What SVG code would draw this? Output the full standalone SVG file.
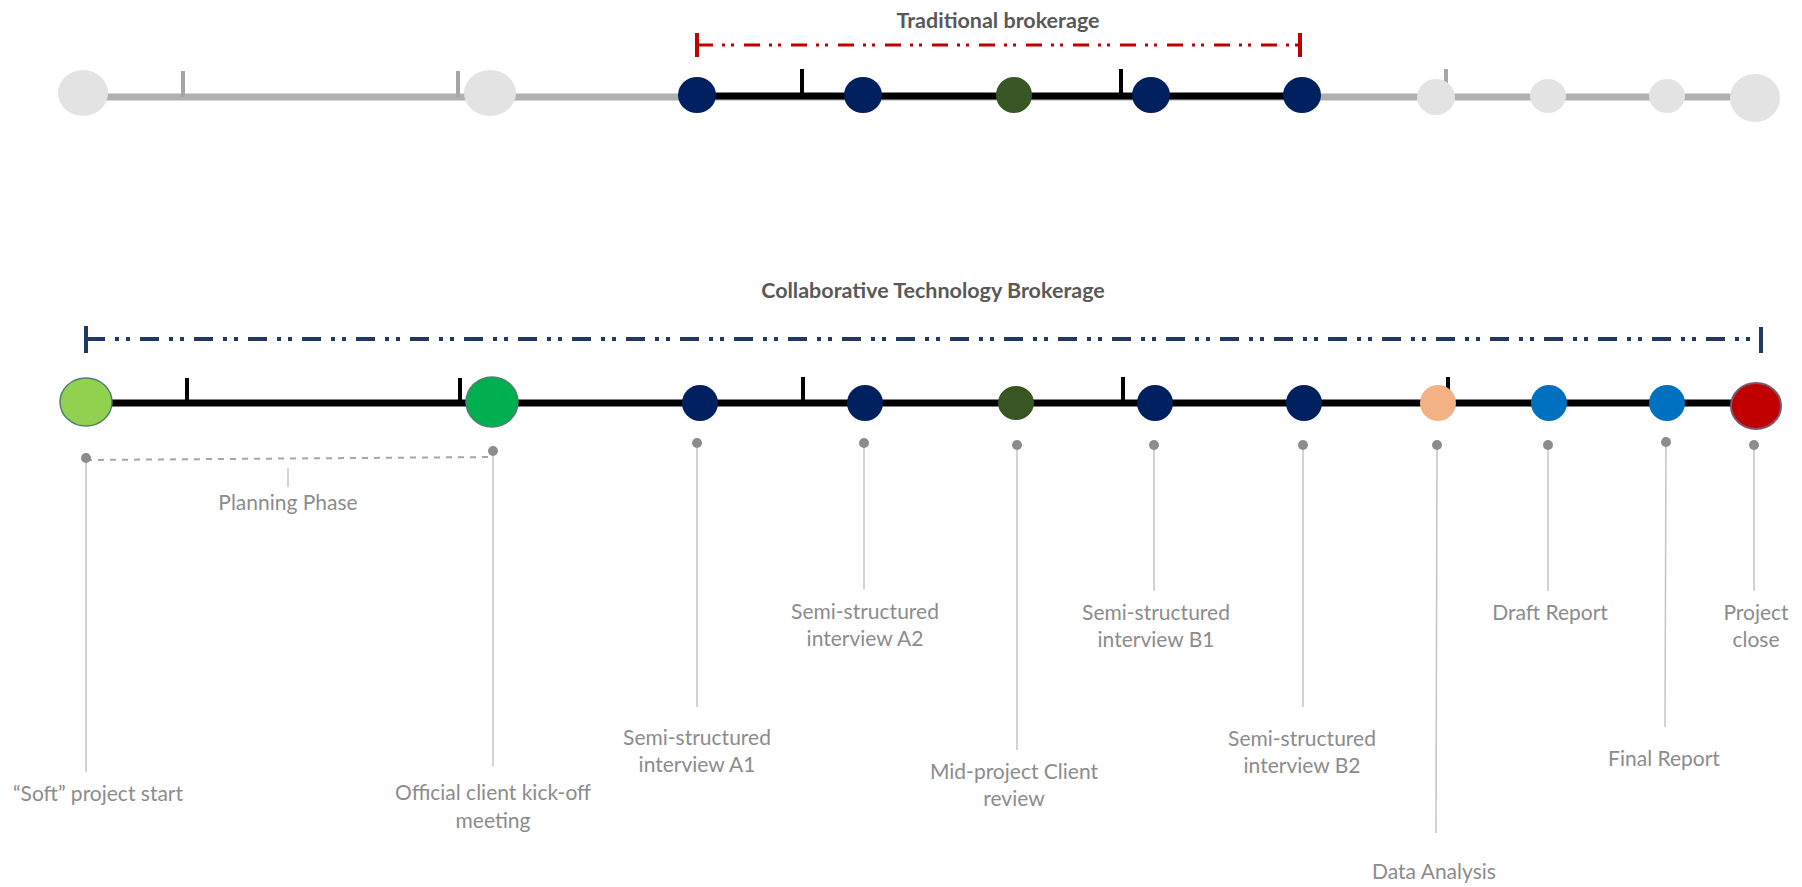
<svg xmlns="http://www.w3.org/2000/svg" width="1802" height="887" viewBox="0 0 1802 887">
  <style>
    .title { font-family: Lato, "Open Sans", sans-serif; font-weight: bold; font-size: 21.5px; fill: #595959; text-anchor: middle; }
    .lbl { font-family: Lato, "Open Sans", sans-serif; font-size: 21px; fill: #8c8c8c; text-anchor: middle; }
    .ghost { fill: #e3e3e3; }
    .gline { stroke: #b0b0b0; stroke-width: 7; fill: none; }
    .gtick { stroke: #a6a6a6; stroke-width: 4; fill: none; }
    .bline { stroke: #000000; stroke-width: 7; fill: none; }
    .btick { stroke: #000000; stroke-width: 4; fill: none; }
    .navy { fill: #002060; }
    .olive { fill: #375623; }
    .leader { stroke: #c4c4c4; stroke-width: 1.5; fill: none; }
    .pin { fill: #8c8c8c; }
    .red-span { stroke: #c00000; stroke-width: 3; fill: none; stroke-dasharray: 16 9 3 6 3 10; }
    .red-cap { stroke: #c00000; stroke-width: 4; }
    .blue-span { stroke: #1f3864; stroke-width: 4; fill: none; stroke-dasharray: 19 10 4 7 4 10; }
    .blue-cap { stroke: #1f3864; stroke-width: 4; }
  </style>

  <!-- Titles -->
  <text class="title" x="998" y="28">Traditional brokerage</text>
  <text class="title" x="933" y="298">Collaborative Technology Brokerage</text>

  <!-- Connectors: spans, timelines, ticks and leader lines -->
  <g id="connectors">
    <!-- traditional span -->
    <line class="red-span" x1="697" y1="45" x2="1300" y2="45"/>
    <line class="red-cap" x1="697" y1="33" x2="697" y2="57"/>
    <line class="red-cap" x1="1300" y1="33" x2="1300" y2="57"/>

    <!-- top timeline -->
    <line class="gline" x1="83" y1="97" x2="1755" y2="97"/>
    <line class="gtick" x1="183" y1="71" x2="183" y2="97"/>
    <line class="gtick" x1="458" y1="71" x2="458" y2="97"/>
    <line class="gtick" x1="1446" y1="69" x2="1446" y2="97"/>
    <line class="bline" x1="697" y1="96" x2="1302" y2="96"/>
    <line class="btick" x1="802" y1="69" x2="802" y2="96"/>
    <line class="btick" x1="1121" y1="69" x2="1121" y2="96"/>

    <!-- collaborative span -->
    <line class="blue-span" x1="86" y1="339" x2="1761" y2="339"/>
    <line class="blue-cap" x1="86" y1="326" x2="86" y2="353"/>
    <line class="blue-cap" x1="1761" y1="327" x2="1761" y2="353"/>

    <!-- bottom timeline -->
    <line class="bline" x1="86" y1="403" x2="1756" y2="403"/>
    <line class="btick" x1="187" y1="378" x2="187" y2="403"/>
    <line class="btick" x1="460" y1="378" x2="460" y2="403"/>
    <line class="btick" x1="803" y1="377" x2="803" y2="403"/>
    <line class="btick" x1="1123" y1="377" x2="1123" y2="403"/>
    <line class="btick" x1="1448" y1="377" x2="1448" y2="403"/>

    <!-- planning phase bracket -->
    <line x1="86" y1="460" x2="493" y2="457" stroke="#a6a6a6" stroke-width="2" stroke-dasharray="6 6"/>
    <line class="leader" x1="288" y1="468" x2="288" y2="487"/>

    <!-- leader lines -->
    <line class="leader" x1="86" y1="458" x2="86" y2="772"/>
    <line class="leader" x1="493" y1="451" x2="493" y2="766"/>
    <line class="leader" x1="697" y1="443" x2="697" y2="707"/>
    <line class="leader" x1="864" y1="443" x2="864" y2="589"/>
    <line class="leader" x1="1017" y1="445" x2="1017" y2="750"/>
    <line class="leader" x1="1154" y1="445" x2="1154" y2="591"/>
    <line class="leader" x1="1303" y1="445" x2="1303" y2="707"/>
    <line class="leader" x1="1437" y1="445" x2="1436" y2="833"/>
    <line class="leader" x1="1548" y1="445" x2="1548" y2="591"/>
    <line class="leader" x1="1666" y1="442" x2="1665" y2="727"/>
    <line class="leader" x1="1754" y1="445" x2="1754" y2="591"/>
  </g>

  <!-- Top timeline markers -->
  <g id="top-markers">
    <ellipse class="ghost" cx="83" cy="93" rx="25" ry="23"/>
    <ellipse class="ghost" cx="490" cy="93" rx="26" ry="23"/>
    <ellipse class="ghost" cx="1436" cy="97" rx="19" ry="18"/>
    <ellipse class="ghost" cx="1548" cy="96" rx="18" ry="17"/>
    <ellipse class="ghost" cx="1667" cy="96" rx="18" ry="17"/>
    <ellipse class="ghost" cx="1755" cy="98" rx="25" ry="24"/>
    <ellipse class="navy" cx="697" cy="95" rx="19" ry="18"/>
    <ellipse class="navy" cx="863" cy="95" rx="19" ry="18"/>
    <ellipse class="olive" cx="1014" cy="95" rx="18" ry="18"/>
    <ellipse class="navy" cx="1151" cy="95" rx="19" ry="18"/>
    <ellipse class="navy" cx="1302" cy="95" rx="19" ry="18"/>
  </g>

  <!-- Bottom timeline milestones -->
  <g id="soft-start">
    <ellipse cx="86" cy="402" rx="26" ry="24" fill="#92d050" stroke="#4f7f73" stroke-width="1.5"/>
    <circle class="pin" cx="86" cy="458" r="5"/>
    <text class="lbl" x="98" y="801">“Soft” project start</text>
  </g>
  <g id="kick-off">
    <ellipse cx="492" cy="402" rx="26" ry="25" fill="#00b050" stroke="#4f7f73" stroke-width="1.5"/>
    <circle class="pin" cx="493" cy="451" r="5"/>
    <text class="lbl" x="493" y="800">Official client kick-off</text>
    <text class="lbl" x="493" y="828">meeting</text>
  </g>
  <g id="planning-phase">
    <text class="lbl" x="288" y="510">Planning Phase</text>
  </g>
  <g id="interview-a1">
    <ellipse class="navy" cx="700" cy="403" rx="18" ry="18"/>
    <circle class="pin" cx="697" cy="443" r="5"/>
    <text class="lbl" x="697" y="745">Semi-structured</text>
    <text class="lbl" x="697" y="772">interview A1</text>
  </g>
  <g id="interview-a2">
    <ellipse class="navy" cx="865" cy="403" rx="18" ry="18"/>
    <circle class="pin" cx="864" cy="443" r="5"/>
    <text class="lbl" x="865" y="619">Semi-structured</text>
    <text class="lbl" x="865" y="646">interview A2</text>
  </g>
  <g id="client-review">
    <ellipse class="olive" cx="1016" cy="403" rx="18" ry="17"/>
    <circle class="pin" cx="1017" cy="445" r="5"/>
    <text class="lbl" x="1014" y="779">Mid-project Client</text>
    <text class="lbl" x="1014" y="806">review</text>
  </g>
  <g id="interview-b1">
    <ellipse class="navy" cx="1155" cy="403" rx="18" ry="18"/>
    <circle class="pin" cx="1154" cy="445" r="5"/>
    <text class="lbl" x="1156" y="620">Semi-structured</text>
    <text class="lbl" x="1156" y="647">interview B1</text>
  </g>
  <g id="interview-b2">
    <ellipse class="navy" cx="1304" cy="403" rx="18" ry="18"/>
    <circle class="pin" cx="1303" cy="445" r="5"/>
    <text class="lbl" x="1302" y="746">Semi-structured</text>
    <text class="lbl" x="1302" y="773">interview B2</text>
  </g>
  <g id="data-analysis">
    <ellipse cx="1438" cy="403" rx="18" ry="18" fill="#f4b183"/>
    <circle class="pin" cx="1437" cy="445" r="5"/>
    <text class="lbl" x="1434" y="879">Data Analysis</text>
  </g>
  <g id="draft-report">
    <ellipse cx="1549" cy="403" rx="18" ry="18" fill="#0070c0"/>
    <circle class="pin" cx="1548" cy="445" r="5"/>
    <text class="lbl" x="1550" y="620">Draft Report</text>
  </g>
  <g id="final-report">
    <ellipse cx="1667" cy="403" rx="18" ry="18" fill="#0070c0"/>
    <circle class="pin" cx="1666" cy="442" r="5"/>
    <text class="lbl" x="1664" y="766">Final Report</text>
  </g>
  <g id="project-close">
    <ellipse cx="1756" cy="406" rx="25" ry="23" fill="#c00000" stroke="#7a5a6e" stroke-width="2"/>
    <circle class="pin" cx="1754" cy="445" r="5"/>
    <text class="lbl" x="1756" y="620">Project</text>
    <text class="lbl" x="1756" y="647">close</text>
  </g>
</svg>
